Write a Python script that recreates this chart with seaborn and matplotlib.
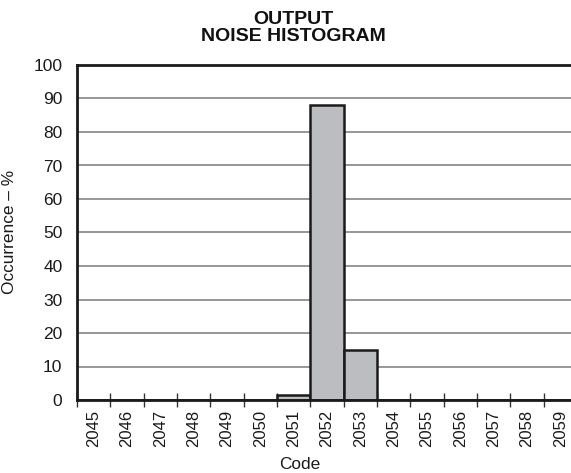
import matplotlib
matplotlib.use("Agg")
import matplotlib.pyplot as plt
import seaborn as sns
import pandas as pd
import numpy as np

codes = ["2045", "2046", "2047", "2048", "2049", "2050", "2051", "2052",
         "2053", "2054", "2055", "2056", "2057", "2058", "2059"]
occurrence = [0, 0, 0, 0, 0, 0, 1.5, 88, 15, 0, 0, 0, 0, 0, 0]
y_ticks = [0, 10, 20, 30, 40, 50, 60, 70, 80, 90, 100]

sns.set_theme(style="white")
plt.rcParams["font.family"] = ["Liberation Sans", "DejaVu Sans"]

df = pd.DataFrame({"Code": codes, "Occurrence": occurrence})

fig = plt.figure(figsize=(5.71, 4.73), dpi=100)
ax = fig.add_axes([77 / 571, 73 / 473, 500 / 571, 335 / 473])

sns.barplot(data=df, x="Code", y="Occurrence", order=codes, color="#bcbdc1",
            saturation=1, width=1.0, edgecolor="#1a1a1a", linewidth=1.8, ax=ax)

ax.set_ylim(0, 100)
ax.set_xlim(-0.5, len(codes) - 0.5)
ax.set_yticks(y_ticks)
ax.yaxis.grid(True, color="#7a7a7a", linewidth=1.1)
ax.set_axisbelow(True)

# labels sit in the middle of each bin, tick marks on the bin edges
ax.set_xticks(np.arange(len(codes)))
ax.set_xticklabels(codes, rotation=90, fontsize=12, color="#1a1a1a")
ax.set_xticks(np.arange(len(codes) + 1) - 0.5, minor=True)
ax.tick_params(axis="x", which="major", length=0, pad=7)
ax.tick_params(axis="x", which="minor", length=10, width=1.0,
               direction="inout", color="#333333", bottom=True)
ax.tick_params(axis="y", length=0, pad=10.5, labelsize=12.5,
               labelcolor="#1a1a1a")

for side in ["left", "top", "bottom"]:
    ax.spines[side].set_visible(True)
    ax.spines[side].set_linewidth(2.0)
    ax.spines[side].set_color("#1a1a1a")
ax.spines["right"].set_visible(False)

ax.set_xlabel("")
ax.set_ylabel("Occurrence – %", fontsize=12.4, color="#1a1a1a")
ax.yaxis.set_label_coords((17.5 - 77) / 500, (473 - 232 - 73) / 335)
fig.text(300 / 571, 1 - 464 / 473, "Code", ha="center", va="center",
         fontsize=12.4, color="#1a1a1a")
fig.text(293 / 571, 1 - 28 / 473, "OUTPUT\nNOISE HISTOGRAM", ha="center",
         va="center", fontsize=14, fontweight="bold", color="#111111",
         linespacing=1.0)

fig.savefig("out.png", dpi=100)
